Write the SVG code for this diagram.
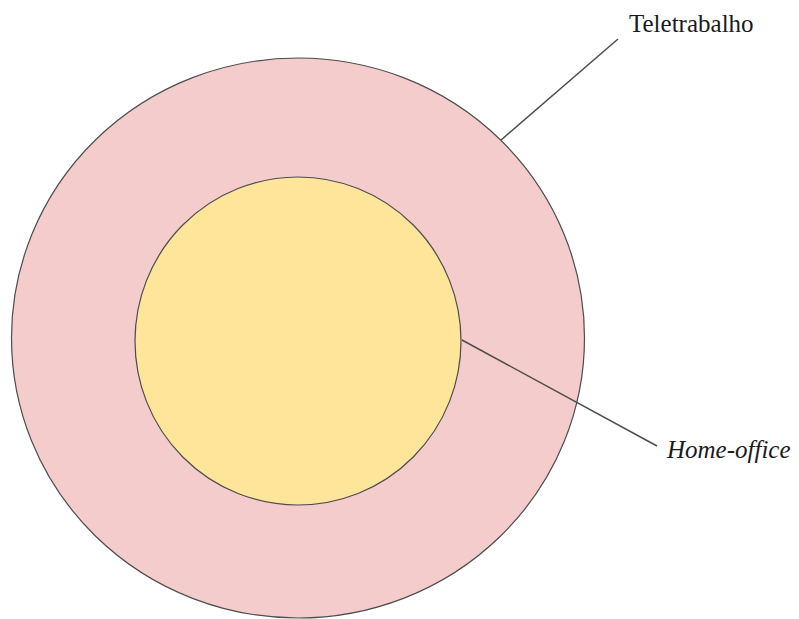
<svg xmlns="http://www.w3.org/2000/svg" width="799" height="619" viewBox="0 0 799 619">
<style>
.shape{stroke:#4d4d4d;stroke-width:1.2}
.conn{stroke:#4d4d4d;stroke-width:1.5;fill:none}
.lbl{font-size:25px;fill:#1a1a1a}
</style>
<rect width="799" height="619" fill="#ffffff"/>
<g id="teletrabalho">
<ellipse class="shape" cx="298" cy="338" rx="286.5" ry="280" fill="#f4cccc"/>
</g>
<g id="home-office">
<ellipse class="shape" cx="298" cy="341" rx="163" ry="164" fill="#ffe599"/>
</g>
<g id="connectors">
<line class="conn" x1="501" y1="140" x2="618" y2="39"/>
<line class="conn" x1="462" y1="340" x2="657" y2="446"/>
</g>
<g id="labels" font-family="'Liberation Serif', 'DejaVu Serif', serif">
<text class="lbl" x="629" y="32">Teletrabalho</text>
<text class="lbl" x="667" y="458" font-style="italic">Home-office</text>
</g>
</svg>
